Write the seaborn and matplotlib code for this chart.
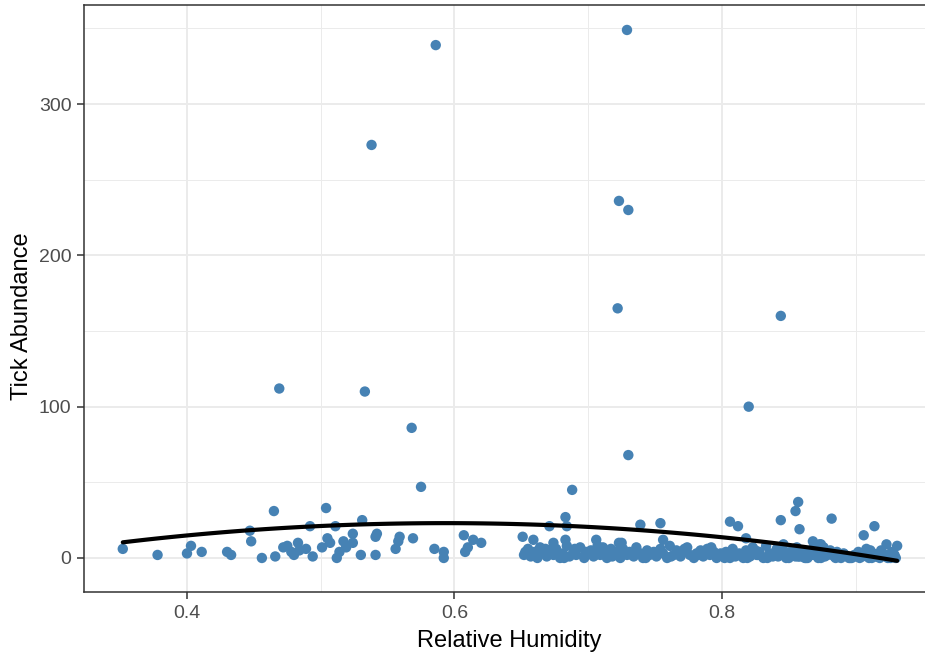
import matplotlib
matplotlib.use("Agg")
import matplotlib.pyplot as plt
from matplotlib.ticker import MultipleLocator
import seaborn as sns
import pandas as pd

# Sparse low-humidity sites (0.35 - 0.65)
low_rh = [0.352, 0.378, 0.400, 0.403, 0.411, 0.430, 0.433,
          0.447, 0.448, 0.456, 0.465, 0.466, 0.472, 0.475, 0.478, 0.480,
          0.483, 0.484, 0.489, 0.492, 0.494, 0.501, 0.504, 0.505, 0.507,
          0.511, 0.512, 0.514, 0.517, 0.519, 0.524, 0.524, 0.530, 0.531,
          0.541, 0.541, 0.542, 0.556, 0.558, 0.559, 0.569, 0.585, 0.592,
          0.592, 0.607, 0.608, 0.610, 0.614, 0.620]
low_ticks = [6, 2, 3, 8, 4, 4, 2,
             18, 11, 0, 31, 1, 7, 8, 4, 2,
             10, 5, 6, 21, 1, 7, 33, 13, 10,
             21, 0, 4, 11, 7, 16, 10, 2, 25,
             2, 14, 16, 6, 11, 14, 13, 6, 4,
             0, 15, 4, 7, 12, 10]

# Dense high-humidity sites (0.65 - 0.93)
high_rh = [0.651, 0.653, 0.659, 0.671, 0.674, 0.683, 0.684, 0.706, 0.723,
           0.652, 0.655, 0.657, 0.660, 0.662, 0.664, 0.667, 0.669, 0.671,
           0.674, 0.676, 0.679, 0.681, 0.684, 0.686, 0.689, 0.691, 0.694,
           0.697, 0.699, 0.702, 0.704, 0.707, 0.709, 0.712, 0.714, 0.717,
           0.719, 0.654, 0.661, 0.668, 0.675, 0.682, 0.690, 0.698, 0.705,
           0.711, 0.718,
           0.725, 0.739, 0.754, 0.756,
           0.721, 0.724, 0.726, 0.729, 0.731, 0.734, 0.736, 0.739, 0.741,
           0.744, 0.746, 0.749, 0.751, 0.754, 0.756, 0.759, 0.761, 0.764,
           0.766, 0.769, 0.771, 0.774, 0.776, 0.779, 0.781, 0.784, 0.786,
           0.789, 0.791, 0.794, 0.796, 0.799, 0.723, 0.733, 0.743, 0.752,
           0.762, 0.772, 0.782, 0.792,
           0.806, 0.812, 0.844, 0.858, 0.818, 0.868,
           0.801, 0.803, 0.806, 0.808, 0.811, 0.813, 0.816, 0.818, 0.821,
           0.823, 0.826, 0.828, 0.831, 0.833, 0.836, 0.838, 0.841, 0.843,
           0.846, 0.848, 0.851, 0.853, 0.856, 0.858, 0.861, 0.863, 0.866,
           0.868, 0.805, 0.815, 0.825, 0.835, 0.845, 0.855, 0.865,
           0.882, 0.906, 0.914, 0.873, 0.874, 0.923, 0.931, 0.911,
           0.871, 0.874, 0.876, 0.879, 0.881, 0.884, 0.886, 0.889, 0.891,
           0.894, 0.897, 0.899, 0.902, 0.905, 0.908, 0.910, 0.913, 0.916,
           0.919, 0.921, 0.924, 0.927, 0.929,
           0.860, 0.864, 0.869, 0.872, 0.877, 0.880, 0.885, 0.888, 0.892,
           0.896, 0.900, 0.903, 0.907, 0.912, 0.915, 0.918, 0.922, 0.926,
           0.928, 0.930, 0.878, 0.887, 0.895, 0.904, 0.917,
           0.802, 0.810, 0.819, 0.827, 0.834, 0.842, 0.850, 0.857, 0.862,
           0.867]
high_ticks = [14, 4, 12, 21, 10, 12, 21, 12, 10,
              2, 6, 1, 4, 0, 7, 3, 1, 5,
              2, 6, 0, 3, 8, 1, 4, 2, 7,
              0, 3, 5, 1, 8, 2, 4, 0, 6,
              3, 4, 1, 6, 3, 0, 6, 4, 2,
              7, 1,
              10, 22, 23, 12,
              3, 0, 6, 2, 4, 1, 7, 3, 0,
              5, 2, 4, 1, 6, 3, 0, 8, 2,
              5, 1, 4, 7, 2, 0, 3, 5, 1,
              6, 2, 4, 0, 3, 5, 2, 0, 4,
              1, 6, 2, 7,
              24, 21, 25, 19, 13, 11,
              1, 4, 0, 6, 2, 3, 0, 5, 1,
              7, 2, 4, 0, 8, 3, 1, 6, 2,
              9, 0, 4, 2, 7, 1, 5, 0, 3,
              6, 3, 1, 5, 2, 5, 1, 4,
              26, 15, 21, 9, 9, 9, 8, 5,
              3, 0, 7, 2, 5, 1, 4, 0, 3,
              1, 0, 2, 4, 1, 6, 0, 3, 1,
              5, 2, 0, 4, 2,
              1, 0, 2, 0, 1, 3, 0, 1, 2,
              0, 1, 0, 2, 0, 1, 0, 2, 0,
              1, 0, 2, 1, 0, 3, 1,
              0, 1, 0, 2, 0, 1, 0, 1, 0,
              2]

# Sites with large tick counts
peak_rh = [0.586, 0.729, 0.538, 0.723, 0.730, 0.722, 0.844, 0.469, 0.533,
           0.820, 0.568, 0.730, 0.575, 0.688, 0.683, 0.857, 0.855]
peak_ticks = [339, 349, 273, 236, 230, 165, 160, 112, 110,
              100, 86, 68, 47, 45, 27, 37, 31]

df = pd.DataFrame({
    "humidity": low_rh + high_rh + peak_rh,
    "ticks": low_ticks + high_ticks + peak_ticks,
})

sns.set_theme(style="whitegrid")
plt.rcParams["font.family"] = ["Liberation Sans", "DejaVu Sans"]

fig = plt.figure(figsize=(9.25, 6.55), dpi=100)
ax = fig.add_axes([84 / 925, 63 / 655, 850.6 / 925, 587 / 655])

sns.scatterplot(data=df, x="humidity", y="ticks", ax=ax, color="#4682B4",
                s=56, edgecolor="none", linewidth=0, zorder=3)
sns.regplot(data=df, x="humidity", y="ticks", ax=ax, order=2, ci=None,
            scatter=False, color="black", line_kws={"linewidth": 3, "zorder": 4})

ax.set_xlim(0.323, 0.959)
ax.set_ylim(-22.5, 365.5)
ax.xaxis.set_major_locator(MultipleLocator(0.2))
ax.xaxis.set_minor_locator(MultipleLocator(0.1))
ax.yaxis.set_major_locator(MultipleLocator(100))
ax.yaxis.set_minor_locator(MultipleLocator(50))
ax.set_xticks([0.4, 0.6, 0.8])
ax.set_xticklabels(["0.4", "0.6", "0.8"])

ax.set_facecolor("white")
ax.grid(which="major", color="#EBEBEB", linewidth=1.4)
ax.grid(which="minor", color="#EBEBEB", linewidth=0.7)
ax.set_axisbelow(True)
for side in ax.spines.values():
    side.set_visible(True)
    side.set_color("#333333")
    side.set_linewidth(1.1)

ax.tick_params(which="major", direction="out", length=5, width=1.1,
               color="#333333", labelcolor="#4D4D4D", labelsize=14, pad=4,
               bottom=True, left=True)
ax.tick_params(which="minor", length=0)

ax.set_xlabel("Relative Humidity", fontsize=17, color="black", labelpad=6)
ax.set_ylabel("Tick Abundance", fontsize=17, color="black")
ax.yaxis.set_label_coords(-0.06, 0.47)

fig.savefig("out.png", dpi=100, facecolor="white")
